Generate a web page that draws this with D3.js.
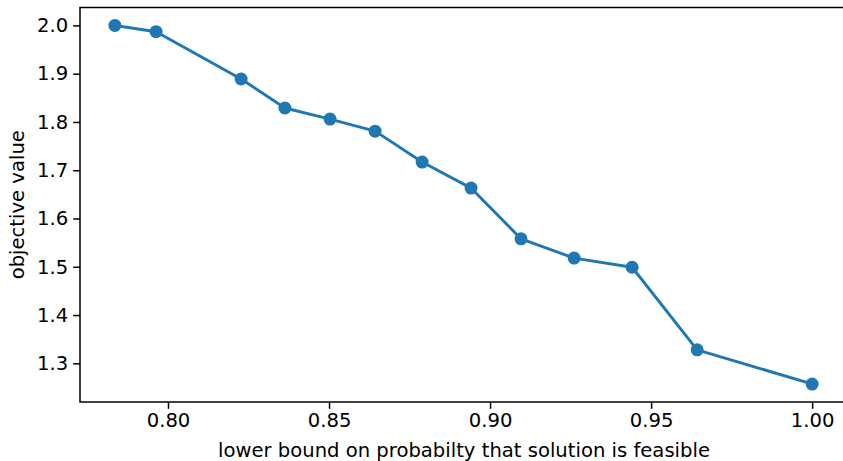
<html>
<head>
    <meta charset="utf-8">
    <title>objective vs probability</title>
</head>
<style>
    body { margin: 0; background: #fff; }
    svg text { font-family: "DejaVu Sans", sans-serif; fill: #000; }
</style>
<body>
<svg width="843" height="461"></svg>
<script src="https://d3js.org/d3.v7.min.js" charset="utf-8"></script>
<script>

    var probs = [0.7835, 0.7963, 0.8227, 0.8363, 0.8503, 0.8643, 0.8789, 0.8941, 0.9096, 0.9261, 0.9441, 0.9643, 1.0];
    var objs = [2.000, 1.987, 1.889, 1.829, 1.806, 1.781, 1.717, 1.663, 1.558, 1.518, 1.499, 1.328, 1.257];
    var xTicks = [0.80, 0.85, 0.90, 0.95, 1.00];
    var yTicks = [1.3, 1.4, 1.5, 1.6, 1.7, 1.8, 1.9, 2.0];

    var mLeft = 80, mTop = 7.5, mRight = 847, mBottom = 402;
    var fs = 19.6;

    // matplotlib style 5% margins
    var xe = d3.extent(probs), ye = d3.extent(objs);
    var xp = (xe[1] - xe[0]) * 0.05, yp = (ye[1] - ye[0]) * 0.05;
    var x = d3.scaleLinear().domain([xe[0] - xp, xe[1] + xp]).range([mLeft, mRight]);
    var y = d3.scaleLinear().domain([ye[0] - yp, ye[1] + yp]).range([mBottom, mTop]);

    var svg = d3.select('svg');

    var xAxis = svg.append('g')
        .attr('transform', 'translate(0,' + mBottom + ')')
        .call(d3.axisBottom(x).tickValues(xTicks).tickFormat(d3.format('.2f')).tickSize(6.8).tickPadding(4.5));
    var yAxis = svg.append('g')
        .attr('transform', 'translate(' + mLeft + ',0)')
        .call(d3.axisLeft(y).tickValues(yTicks).tickFormat(d3.format('.1f')).tickSize(6.8).tickPadding(5));

    [xAxis, yAxis].forEach(function (a) {
        a.select('.domain').remove();
        a.selectAll('line').attr('stroke', '#000').attr('stroke-width', 1.5);
        a.selectAll('text').attr('font-size', fs + 'px').attr('font-family', '"DejaVu Sans", sans-serif');
    });

    // spines
    svg.append('rect')
        .attr('x', mLeft).attr('y', mTop)
        .attr('width', mRight - mLeft).attr('height', mBottom - mTop)
        .attr('fill', 'none').attr('stroke', '#000').attr('stroke-width', 1.5);

    var line = d3.line().x(function (d, i) { return x(probs[i]); }).y(function (d) { return y(d); });

    svg.append('path')
        .datum(objs)
        .attr('d', line)
        .attr('fill', 'none')
        .attr('stroke', '#1f77b4')
        .attr('stroke-width', 2.9)
        .attr('stroke-linejoin', 'round')
        .attr('stroke-linecap', 'square');

    svg.selectAll('circle.pt')
        .data(objs)
        .enter().append('circle')
        .attr('class', 'pt')
        .attr('cx', function (d, i) { return x(probs[i]); })
        .attr('cy', function (d) { return y(d); })
        .attr('r', 6.5)
        .attr('fill', '#1f77b4');

    svg.append('text')
        .attr('x', 464)
        .attr('y', 457)
        .attr('text-anchor', 'middle')
        .attr('font-size', fs + 'px')
        .text('lower bound on probabilty that solution is feasible');

    svg.append('text')
        .attr('transform', 'translate(24,' + (mTop + mBottom) / 2 + ') rotate(-90)')
        .attr('text-anchor', 'middle')
        .attr('font-size', fs + 'px')
        .text('objective value');

</script>
</body>
</html>
